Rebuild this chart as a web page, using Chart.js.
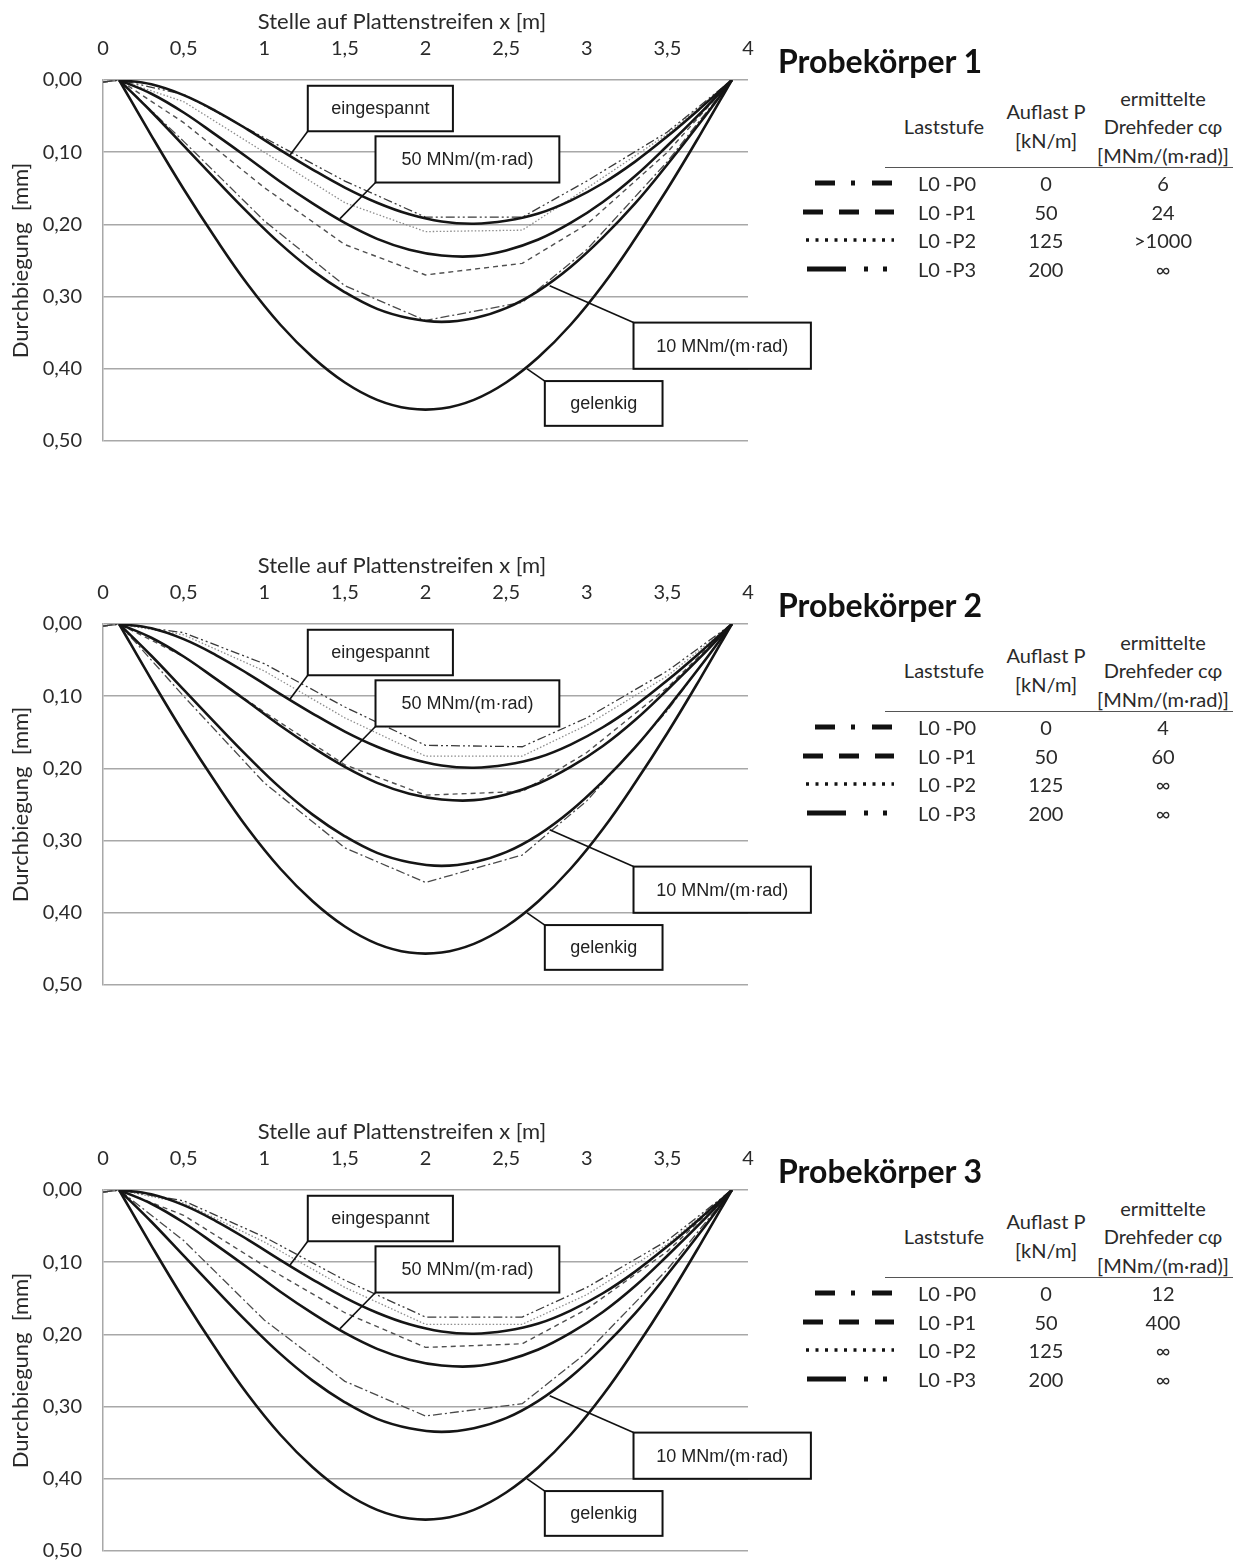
<!DOCTYPE html>
<html>
<head>
<meta charset="utf-8">
<script src="https://cdn.jsdelivr.net/npm/chart.js@4.4.0/dist/chart.umd.min.js"></script>
<style>
  html, body { margin: 0; padding: 0; background: #fff; overflow: hidden; }
  body { width: 1249px; height: 1562px; position: relative; font-family: Lato, "Open Sans", sans-serif; color: #2a2a2a; }
  .panel { position: absolute; left: 0; width: 1249px; height: 480px; }
  .panel canvas { position: absolute; left: 0; top: 0; }
  .txt { position: absolute; white-space: nowrap; transform: translate(-50%, -50%); font-size: 20px; }
  .left { transform: translate(0, -50%); }
  .xtitle { font-size: 22px; }
  .title { position: absolute; left: 778px; top: 43px; line-height: 36px; font-size: 32px; font-weight: bold; color: #111; }
  .rule { position: absolute; left: 885px; width: 348px; height: 0; top: 167px; border-top: 1.5px solid #555; }
  svg.sample { position: absolute; left: 798px; width: 100px; height: 12px; }
</style>
</head>
<body>
<div class="panel" id="panel1" style="top:0px"><canvas id="chart1" width="830" height="474"></canvas></div>
<div class="panel" id="panel2" style="top:544px"><canvas id="chart2" width="830" height="474"></canvas></div>
<div class="panel" id="panel3" style="top:1110px"><canvas id="chart3" width="830" height="474"></canvas></div>
<script>
// axis ticks
const xTicks = [0, 0.5, 1, 1.5, 2, 2.5, 3, 3.5, 4];
const yTicks = [0, 0.1, 0.2, 0.3, 0.4, 0.5];

// theoretical curves (same in all three panels), deflection in mm
const xTheorie = [0.1, 0.3, 0.5, 0.7, 0.9, 1.1, 1.3, 1.5, 1.7, 1.9, 2.1, 2.3, 2.5, 2.7, 2.9, 3.1, 3.3, 3.5, 3.7, 3.9];
const eingespannt = [0, 0.006, 0.021, 0.043, 0.069, 0.097, 0.124, 0.149, 0.170, 0.186, 0.196, 0.199, 0.195, 0.185, 0.167, 0.143, 0.113, 0.078, 0.040, 0];
const feder50 = [0, 0.019, 0.045, 0.076, 0.108, 0.141, 0.171, 0.198, 0.220, 0.235, 0.243, 0.244, 0.236, 0.221, 0.198, 0.169, 0.133, 0.091, 0.047, 0];
const feder10 = [0, 0.044, 0.091, 0.138, 0.184, 0.227, 0.264, 0.294, 0.317, 0.330, 0.335, 0.330, 0.316, 0.292, 0.259, 0.218, 0.171, 0.117, 0.060, 0];
const gelenkig = [0, 0.077, 0.151, 0.220, 0.284, 0.339, 0.384, 0.419, 0.443, 0.455, 0.455, 0.443, 0.419, 0.384, 0.339, 0.284, 0.220, 0.151, 0.077, 0];

// measured load steps
const xMessung = [0, 0.1, 0.5, 1.0, 1.5, 2.0, 2.6, 3.0, 3.5, 3.9];
const pk1_P0 = [0.003, 0, 0.085, 0.195, 0.285, 0.333, 0.308, 0.235, 0.113, 0];
const pk1_P1 = [0.003, 0, 0.059, 0.149, 0.228, 0.270, 0.254, 0.200, 0.100, 0];
const pk1_P2 = [0.003, 0, 0.030, 0.100, 0.170, 0.210, 0.208, 0.150, 0.075, 0];
const pk1_P3 = [0.003, 0, 0.020, 0.080, 0.140, 0.190, 0.190, 0.140, 0.072, 0];
const pk2_P0 = [0.003, 0, 0.100, 0.220, 0.310, 0.358, 0.320, 0.245, 0.120, 0];
const pk2_P1 = [0.003, 0, 0.045, 0.122, 0.195, 0.237, 0.232, 0.178, 0.088, 0];
const pk2_P2 = [0.003, 0, 0.015, 0.065, 0.130, 0.183, 0.183, 0.140, 0.072, 0];
const pk2_P3 = [0.003, 0, 0.012, 0.055, 0.115, 0.168, 0.170, 0.130, 0.065, 0];
const pk3_P0 = [0.003, 0, 0.070, 0.180, 0.265, 0.313, 0.296, 0.225, 0.110, 0];
const pk3_P1 = [0.003, 0, 0.035, 0.105, 0.170, 0.218, 0.213, 0.165, 0.085, 0];
const pk3_P2 = [0.003, 0, 0.018, 0.072, 0.135, 0.186, 0.186, 0.145, 0.075, 0];
const pk3_P3 = [0.003, 0, 0.015, 0.065, 0.125, 0.176, 0.176, 0.135, 0.070, 0];

// table
const laststufen = ['L0 -P0', 'L0 -P1', 'L0 -P2', 'L0 -P3'];
const auflast = [0, 50, 125, 200];
const drehfeder1 = ['6', '24', '>1000', '∞'];
const drehfeder2 = ['4', '60', '∞', '∞'];
const drehfeder3 = ['12', '400', '∞', '∞'];

// label boxes in data units [x0, y0, x1, y1], leader from a box corner to a curve point
const callouts = [
    { text: 'eingespannt', box: [1.27, 0.008, 2.17, 0.071], corner: 'bl', target: [1.16, 0.104] },
    { text: '50 MNm/(m·rad)', box: [1.69, 0.078, 2.83, 0.142], corner: 'bl', target: [1.47, 0.192] },
    { text: '10 MNm/(m·rad)', box: [3.29, 0.336, 4.39, 0.400], corner: 'tl', target: [2.77, 0.285] },
    { text: 'gelenkig', box: [2.74, 0.417, 3.47, 0.479], corner: 'tl', target: [2.63, 0.400] }
];

const tickFont = { family: 'Lato, "Open Sans", sans-serif', size: 20 };
const titleFont = { family: 'Lato, "Open Sans", sans-serif', size: 22 };
const axisColor = '#2a2a2a';

const calloutPlugin = {
    id: 'callouts',
    afterDatasetsDraw(chart) {
        const ctx = chart.ctx;
        const xs = chart.scales.x, ys = chart.scales.y;
        ctx.save();
        callouts.forEach(c => {
            const x0 = xs.getPixelForValue(c.box[0]), x1 = xs.getPixelForValue(c.box[2]);
            const y0 = ys.getPixelForValue(c.box[1]), y1 = ys.getPixelForValue(c.box[3]);
            const cx = x0, cy = c.corner === 'bl' ? y1 : y0;
            ctx.strokeStyle = '#111';
            ctx.lineWidth = 1.6;
            ctx.beginPath();
            ctx.moveTo(cx, cy);
            ctx.lineTo(xs.getPixelForValue(c.target[0]), ys.getPixelForValue(c.target[1]));
            ctx.stroke();
            ctx.fillStyle = '#fff';
            ctx.fillRect(x0, y0, x1 - x0, y1 - y0);
            ctx.lineWidth = 2;
            ctx.strokeRect(x0, y0, x1 - x0, y1 - y0);
            ctx.fillStyle = '#222';
            ctx.font = '18px "Liberation Sans", Arial, sans-serif';
            ctx.textAlign = 'center';
            ctx.textBaseline = 'middle';
            ctx.fillText(c.text, (x0 + x1) / 2, (y0 + y1) / 2 + 1);
        });
        ctx.restore();
    }
};

function points(xv, yv) {
    return xv.map((x, i) => ({ x: x, y: yv[i] }));
}

function theory(values) {
    return {
        data: points(xTheorie, values),
        borderColor: '#151515',
        borderWidth: 2.6,
        tension: 0.4,
        pointRadius: 0
    };
}

function measured(values, dash, color, width) {
    return {
        data: points(xMessung, values),
        borderColor: color,
        borderWidth: width,
        borderDash: dash,
        tension: 0,
        pointRadius: 0
    };
}

function makeChart(id, p0, p1, p2, p3) {
    const ctx = document.getElementById(id).getContext('2d');
    return new Chart(ctx, {
        type: 'line',
        data: {
            datasets: [
                theory(eingespannt),
                theory(feder50),
                theory(feder10),
                theory(gelenkig),
                measured(p3, [9, 3, 2, 3, 2, 3], '#3a3a3a', 1.3),
                measured(p2, [1.5, 2], '#8c8c8c', 1.3),
                measured(p1, [5, 4], '#505050', 1.4),
                measured(p0, [9, 3, 2, 3], '#4a4a4a', 1.3)
            ]
        },
        options: {
            responsive: false,
            animation: false,
            layout: { padding: { top: 0, right: 82, bottom: 6, left: 0 } },
            plugins: { legend: { display: false }, tooltip: { enabled: false } },
            scales: {
                x: {
                    type: 'linear',
                    position: 'top',
                    min: 0,
                    max: 4,
                    afterBuildTicks: scale => { scale.ticks = xTicks.map(v => ({ value: v })); },
                    afterFit: scale => { scale.height = 80; },
                    grid: { display: false, drawTicks: false },
                    border: { display: false },
                    ticks: {
                        padding: 19,
                        font: tickFont,
                        color: axisColor,
                        maxRotation: 0,
                        callback: v => String(v).replace('.', ',')
                    },
                    title: { display: false }
                },
                y: {
                    type: 'linear',
                    reverse: true,
                    min: 0,
                    max: 0.5,
                    afterBuildTicks: scale => { scale.ticks = yTicks.map(v => ({ value: v })); },
                    afterFit: scale => { scale.width = 103; },
                    grid: { color: '#a8a8a8', lineWidth: 1.5, drawTicks: false },
                    border: { display: true, color: '#a8a8a8', width: 1.5 },
                    ticks: {
                        padding: 21,
                        font: tickFont,
                        color: axisColor,
                        callback: v => v.toFixed(2).replace('.', ',')
                    },
                    title: {
                        display: true,
                        text: 'Durchbiegung  [mm]',
                        padding: { top: 8, bottom: 0 },
                        font: titleFont,
                        color: axisColor
                    }
                }
            }
        },
        plugins: [calloutPlugin]
    });
}

const samples = [
    { dash: '20 16 4 17 20', start: 17, width: 5 },
    { dash: '20 16 20 16 20', start: 5, width: 5 },
    { dash: '3 6.5', start: 8, width: 3.5 },
    { dash: '39 18 4 15 4', start: 9, width: 5 }
];

function put(panel, text, x, y, cls) {
    const el = document.createElement('div');
    el.className = 'txt' + (cls ? ' ' + cls : '');
    el.style.left = x + 'px';
    el.style.top = y + 'px';
    el.textContent = text;
    panel.appendChild(el);
    return el;
}

function makeTable(panelId, nr, drehfeder) {
    const panel = document.getElementById(panelId);
    put(panel, 'Stelle auf Plattenstreifen x [m]', 402, 20, 'xtitle');

    const title = document.createElement('div');
    title.className = 'title';
    title.textContent = 'Probekörper ' + nr;
    panel.appendChild(title);

    put(panel, 'Laststufe', 944, 126);
    put(panel, 'Auflast P', 1046, 111);
    put(panel, '[kN/m]', 1046, 140);
    put(panel, 'ermittelte', 1163, 98);
    put(panel, 'Drehfeder cφ', 1163, 126);
    put(panel, '[MNm/(m·rad)]', 1163, 155);

    const rule = document.createElement('div');
    rule.className = 'rule';
    panel.appendChild(rule);

    laststufen.forEach((name, i) => {
        const y = 183 + i * 28.7;
        const s = samples[i];
        const svg = document.createElementNS('http://www.w3.org/2000/svg', 'svg');
        svg.setAttribute('class', 'sample');
        svg.style.top = (y - 6) + 'px';
        const line = document.createElementNS('http://www.w3.org/2000/svg', 'line');
        line.setAttribute('x1', s.start);
        line.setAttribute('x2', 96);
        line.setAttribute('y1', 6);
        line.setAttribute('y2', 6);
        line.setAttribute('stroke', '#111');
        line.setAttribute('stroke-width', s.width);
        line.setAttribute('stroke-dasharray', s.dash);
        svg.appendChild(line);
        panel.appendChild(svg);

        put(panel, name, 918, y, 'left');
        put(panel, String(auflast[i]), 1046, y);
        put(panel, drehfeder[i], 1163, y);
    });
}

makeChart('chart1', pk1_P0, pk1_P1, pk1_P2, pk1_P3);
makeChart('chart2', pk2_P0, pk2_P1, pk2_P2, pk2_P3);
makeChart('chart3', pk3_P0, pk3_P1, pk3_P2, pk3_P3);
makeTable('panel1', 1, drehfeder1);
makeTable('panel2', 2, drehfeder2);
makeTable('panel3', 3, drehfeder3);
</script>
</body>
</html>
